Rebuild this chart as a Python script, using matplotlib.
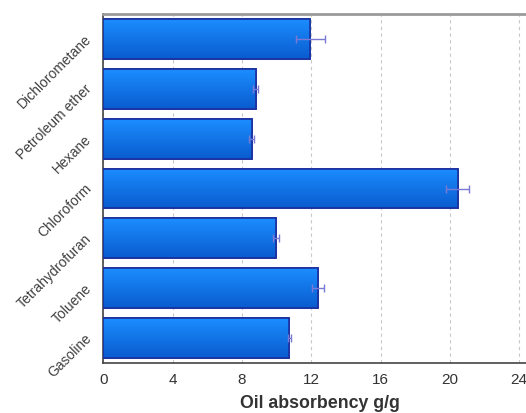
import numpy as np
import matplotlib
matplotlib.use("Agg")
import matplotlib.pyplot as plt
from matplotlib.colors import LinearSegmentedColormap

solvents = ["Dichlorometane", "Petroleum ether", "Hexane", "Chloroform",
            "Tetrahydrofuran", "Toluene", "Gasoline"]
absorbency = [11.95, 8.79, 8.56, 20.45, 9.98, 12.37, 10.73]
errors = [0.83, 0.13, 0.14, 0.65, 0.18, 0.34, 0.10]
xticks = [0, 4, 8, 12, 16, 20, 24]

plt.rcParams["font.family"] = ["Liberation Sans", "DejaVu Sans"]

fig = plt.figure(figsize=(5.26, 4.14), dpi=100)
# axes runs slightly past the right edge of the figure
ax = fig.add_axes([0.1964, 0.12, 0.8237, 0.8445])

n = len(solvents)
ypos = np.arange(n)[::-1]
height = 0.8

bars = ax.barh(ypos, absorbency, height=height, color="#1478f0",
               edgecolor="#1c2fa0", linewidth=1.2, zorder=3)

# vertical gradient inside each bar
grad = LinearSegmentedColormap.from_list("barfill", ["#0a5cce", "#1b8dff"])
gimg = np.linspace(0, 1, 64).reshape(-1, 1)
for b in bars:
    x0, y0 = b.get_x(), b.get_y()
    w, h = b.get_width(), b.get_height()
    im = ax.imshow(gimg, cmap=grad, origin="lower", aspect="auto",
                   extent=[x0, x0 + w, y0, y0 + h], zorder=3.5,
                   interpolation="bilinear")
    im.set_clip_path(b)
    ax.add_patch(plt.Rectangle((x0, y0), w, h, fill=False,
                               edgecolor="#1c2fa0", linewidth=1.2, zorder=4))

ax.errorbar(absorbency, ypos, xerr=errors, fmt="none", ecolor="#7a7ad6",
            elinewidth=1.0, capsize=3, capthick=1.0, zorder=5)

ax.set_xlim(0, 25)
ax.set_ylim(-0.5, n - 0.5)
ax.set_xticks(xticks)
ax.set_xticklabels([str(t) for t in xticks], fontsize=11, color="#333333")
ax.set_yticks(ypos)
ax.set_yticklabels(solvents, rotation=45, ha="right", va="baseline",
                   rotation_mode="anchor", fontsize=10, color="#404040")
ax.tick_params(axis="y", length=0, pad=8)
ax.tick_params(axis="x", length=0, pad=6)

ax.grid(axis="x", linestyle=(0, (3, 3)), color="#c8c8c8", linewidth=0.8, zorder=0)
ax.set_axisbelow(True)

ax.spines["top"].set_color("#9a9a9a")
ax.spines["top"].set_linewidth(2)
ax.spines["left"].set_color("#444444")
ax.spines["bottom"].set_color("#444444")
ax.spines["left"].set_linewidth(1.2)
ax.spines["bottom"].set_linewidth(1.2)
ax.spines["right"].set_visible(False)

ax.set_xlabel("Oil absorbency g/g", fontsize=12.8, fontweight="bold",
              color="#333333", labelpad=6)

fig.savefig("out.png", dpi=100)
